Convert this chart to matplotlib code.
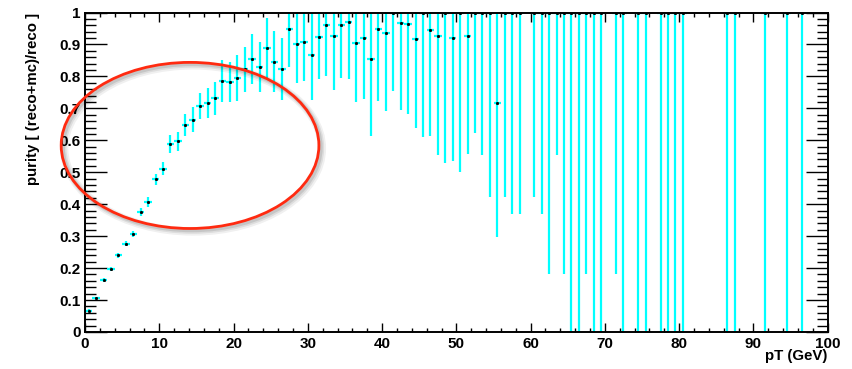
import numpy as np
import matplotlib
matplotlib.use('Agg')
import matplotlib.pyplot as plt
from matplotlib import patches
from matplotlib.ticker import MultipleLocator
import matplotlib.transforms as mtransforms

plt.rcParams['font.family'] = ['Liberation Sans', 'DejaVu Sans']
plt.rcParams['font.weight'] = 'bold'

# bin centres (GeV) of the filled bins, purity and its error
pt_bins = [0.5, 1.5, 2.5, 3.5, 4.5, 5.5, 6.5, 7.5, 8.5, 9.5,
           10.5, 11.5, 12.5, 13.5, 14.5, 15.5, 16.5, 17.5, 18.5, 19.5,
           20.5, 21.5, 22.5, 23.5, 24.5, 25.5, 26.5, 27.5, 28.5, 29.5,
           30.5, 31.5, 32.5, 33.5, 34.5, 35.5, 36.5, 37.5, 38.5, 39.5,
           40.5, 41.5, 42.5, 43.5, 44.5, 45.5, 46.5, 47.5, 48.5, 49.5,
           50.5, 51.5, 52.5, 53.5, 54.5, 55.5, 56.5, 57.5, 58.5,
           60.5, 61.5, 62.5, 63.5, 64.5, 65.5, 66.5, 67.5, 68.5, 69.5,
           71.5, 72.5, 74.5, 75.5, 77.5, 78.5, 79.5, 80.5,
           86.5, 87.5, 91.5, 94.5, 96.5]

purity = [0.067, 0.105, 0.163, 0.198, 0.240, 0.277, 0.306, 0.376, 0.407, 0.478,
          0.511, 0.588, 0.597, 0.647, 0.665, 0.707, 0.717, 0.731, 0.785, 0.782,
          0.795, 0.822, 0.854, 0.830, 0.888, 0.846, 0.824, 0.950, 0.900, 0.907,
          0.868, 0.924, 0.961, 0.926, 0.960, 0.971, 0.904, 0.920, 0.855, 0.948,
          0.937, 1.000, 0.966, 0.963, 0.917, 1.000, 0.945, 0.927, 1.000, 0.920,
          1.000, 0.927, 1.000, 1.000, 1.000, 0.717, 1.000, 1.000, 1.000,
          1.000, 1.000, 1.000, 1.000, 1.000, 1.000, 1.000, 1.000, 1.000, 1.000,
          1.000, 1.000, 1.000, 1.000, 1.000, 1.000, 1.000, 1.000,
          1.000, 1.000, 1.000, 1.000, 1.000]

purity_err = [0.004, 0.005, 0.006, 0.007, 0.008, 0.009, 0.010, 0.012, 0.015, 0.018,
              0.021, 0.028, 0.030, 0.034, 0.038, 0.041, 0.048, 0.052, 0.065, 0.063,
              0.071, 0.070, 0.078, 0.078, 0.095, 0.095, 0.097, 0.119, 0.121, 0.122,
              0.141, 0.132, 0.161, 0.168, 0.165, 0.179, 0.185, 0.192, 0.243, 0.226,
              0.245, 0.246, 0.270, 0.281, 0.279, 0.390, 0.330, 0.373, 0.471, 0.386,
              0.499, 0.371, 0.376, 0.446, 0.577, 0.421, 0.577, 0.632, 0.632,
              0.577, 0.632, 0.817, 0.446, 0.817, 1.000, 1.000, 0.817, 1.000, 1.000,
              0.817, 1.000, 1.000, 1.000, 1.000, 1.000, 1.000, 1.000,
              1.000, 1.000, 1.000, 1.000, 1.000]

bin_half_width = 0.5

fig = plt.figure(figsize=(8.52, 3.69), dpi=100)
ax = fig.add_axes([0.0998, 0.1003, 0.8717, 0.8657])

ax.errorbar(pt_bins, purity, yerr=purity_err, xerr=bin_half_width, fmt='none',
            ecolor='#00ffff', elinewidth=1.6, capsize=0, zorder=2)
ax.plot(pt_bins, purity, linestyle='none', marker='s', markersize=1.1,
        color='black', zorder=3)

ax.set_xlim(0, 100)
ax.set_ylim(0, 1)

ax.xaxis.set_major_locator(MultipleLocator(10))
ax.xaxis.set_minor_locator(MultipleLocator(2))
ax.yaxis.set_major_locator(MultipleLocator(0.1))
ax.yaxis.set_minor_locator(MultipleLocator(0.02))
ax.yaxis.set_major_formatter(plt.FuncFormatter(lambda v, p: '%g' % round(v, 2)))

ax.tick_params(axis='both', which='both', direction='in', top=True, right=True,
               labelsize=11, width=1.0)
ax.tick_params(axis='y', which='major', length=15.8, pad=3)
ax.tick_params(axis='y', which='minor', length=7.9)
ax.tick_params(axis='x', which='major', length=6.5, pad=3.5)
ax.tick_params(axis='x', which='minor', length=3.2)
for s in ax.spines.values():
    s.set_linewidth(1.4)
    s.set_zorder(5)

ax.set_xlabel('pT (GeV)', fontsize=10.8, fontweight='bold', loc='right', labelpad=-1)
ax.set_ylabel('purity [ (reco+mc)/reco ]', fontsize=10.8, fontweight='bold',
              loc='top', labelpad=14)

# hand-drawn style highlight ellipse with a soft shadow
e_center = (14.14, 0.584)
e_w, e_h = 34.7, 0.52
for off, lw, a in [(3, 6, 0.06), (2.5, 4, 0.08), (2, 2.5, 0.10)]:
    tr = ax.transData + mtransforms.ScaledTranslation(off / 100, -off / 100,
                                                      fig.dpi_scale_trans)
    sh = patches.Ellipse(e_center, e_w, e_h, fill=False, edgecolor='black',
                         linewidth=lw, alpha=a, transform=tr, clip_on=False, zorder=6)
    ax.add_patch(sh)
ell = patches.Ellipse(e_center, e_w, e_h, fill=False, edgecolor='#ff2a10',
                      linewidth=2.0, clip_on=False, zorder=7)
ax.add_patch(ell)

fig.savefig('out.png', dpi=100)
